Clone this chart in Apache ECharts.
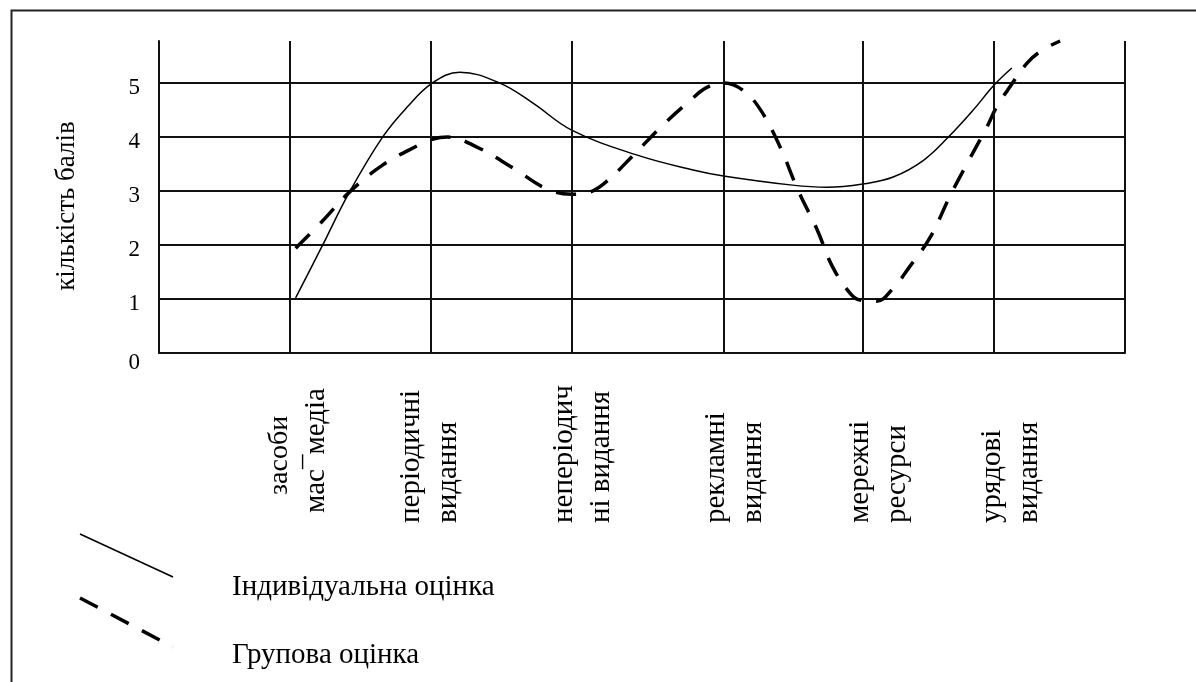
<!DOCTYPE html>
<html>
<head>
<meta charset="utf-8">
<script src="https://cdn.jsdelivr.net/npm/echarts@6/dist/echarts.min.js"></script>
<style>
  html, body { margin: 0; padding: 0; background: #fff; }
  #chart { width: 1196px; height: 682px; }
</style>
</head>
<body>
<div id="chart"></div>
<script>
// категорії (дві строки підпису)
var categories = [
    ['засоби', 'мас¯медіа'],
    ['періодичні', 'видання'],
    ['неперіодич', 'ні видання'],
    ['рекламні', 'видання'],
    ['мережні', 'ресурси'],
    ['урядові', 'видання']
];
// положення категорій на осі x (0..7)
var catPos = [0.95, 1.97, 2.99, 4.09, 5.10, 6.05];
var yTicks = [0, 1, 2, 3, 4, 5];

// Індивідуальна оцінка (прочитано з кривої)
var indX = [0.99, 1.18, 1.38, 1.62, 1.80, 1.98, 2.18, 2.47, 2.71, 2.99, 3.46, 3.87, 4.09, 4.59, 4.84, 5.10, 5.32, 5.54, 5.72, 5.90, 6.05, 6.18];
var indY = [1.02, 1.97, 2.98, 4.00, 4.56, 5.00, 5.20, 5.00, 4.63, 4.13, 3.67, 3.39, 3.28, 3.11, 3.07, 3.13, 3.26, 3.57, 4.00, 4.50, 4.96, 5.28];

// Групова оцінка
var grpX = [0.99, 1.19, 1.38, 1.62, 1.88, 1.98, 2.09, 2.30, 2.57, 2.81, 2.99, 3.09, 3.22, 3.44, 3.63, 3.85, 3.97, 4.09, 4.23, 4.36, 4.50, 4.63, 4.77, 4.88, 5.01, 5.08, 5.20, 5.32, 5.44, 5.59, 5.73, 5.86, 6.00, 6.07, 6.15, 6.29, 6.40, 6.53];
var grpY = [1.94, 2.46, 2.98, 3.48, 3.85, 3.96, 4.00, 3.82, 3.42, 3.04, 2.94, 2.96, 3.13, 3.67, 4.17, 4.68, 4.92, 5.00, 4.87, 4.50, 3.82, 3.02, 2.28, 1.60, 1.10, 0.98, 0.96, 1.20, 1.60, 2.15, 2.90, 3.53, 4.19, 4.56, 4.87, 5.37, 5.61, 5.78];

// місця підписів категорій
var labelPos = [1.01, 1.96, 3.07, 4.17, 5.22, 6.17];

var FONT = 'Liberation Serif';

function pairs(xs, ys) {
    var list = [];
    for (var i = 0; i < xs.length; i++) {
        list.push([xs[i], ys[i]]);
    }
    return list;
}

function catLabel(value) {
    var idx = 0, best = 99;
    for (var i = 0; i < labelPos.length; i++) {
        var d = Math.abs(labelPos[i] - value);
        if (d < best) { best = d; idx = i; }
    }
    var c = categories[idx];
    if (idx === 0) {
        return '{a|' + c[0] + '}\n{b|' + c[1] + '}';
    }
    return c[0] + '\n' + c[1];
}

var vLines = catPos.map(function (v) { return {xAxis: v}; });
vLines.push({xAxis: 7});

var option = {
    animation: false,
    grid: {left: 159, right: 71, top: 41, bottom: 329},
    xAxis: {
        type: 'value', min: 0, max: 7,
        axisLine: {show: true, lineStyle: {color: '#111', width: 2}},
        axisTick: {show: false},
        splitLine: {show: false},
        axisLabel: {
            customValues: labelPos,
            rotate: 90, align: 'left', margin: 170,
            fontFamily: FONT, fontSize: 29, color: '#000', lineHeight: 37,
            formatter: catLabel,
            rich: {
                a: {fontFamily: FONT, fontSize: 28, lineHeight: 37, padding: [0, 0, 0, 28]},
                b: {fontFamily: FONT, fontSize: 29, lineHeight: 37, padding: [0, 0, 0, 10]}
            }
        }
    },
    yAxis: {
        type: 'value', min: 0, max: 5.78, interval: 1,
        name: 'кількість балів', nameLocation: 'middle', nameGap: 79,
        nameTextStyle: {fontFamily: FONT, fontSize: 27, color: '#000', padding: [0, 18, 0, 0]},
        axisLine: {show: true, lineStyle: {color: '#111', width: 2}},
        axisTick: {show: false},
        splitLine: {show: true, showMaxLine: false, lineStyle: {color: '#111', width: 2}},
        axisLabel: {
            showMaxLabel: false, margin: 19,
            fontFamily: FONT, fontSize: 23, color: '#000',
            padding: [9, 0, 0, 0],
            formatter: function (v) {
                if (yTicks.indexOf(v) < 0) return '';
                return v === 0 ? '{z|0}' : String(v);
            },
            rich: {z: {fontFamily: FONT, fontSize: 23, color: '#000', padding: [10, 0, 0, 0]}}
        }
    },
    series: [
        {
            name: 'Індивідуальна оцінка', type: 'line', smooth: 0.4,
            symbol: 'none', clip: false,
            lineStyle: {color: '#000', width: 1.5},
            data: pairs(indX, indY),
            markLine: {
                silent: true, symbol: ['none', 'none'], label: {show: false},
                lineStyle: {color: '#111', width: 2, type: 'solid'},
                data: vLines
            },
            z: 3
        },
        {
            name: 'Групова оцінка', type: 'line', smooth: 0.4,
            symbol: 'none', clip: false,
            lineStyle: {color: '#000', width: 3.5, type: [20, 15], cap: 'butt'},
            data: pairs(grpX, grpY),
            z: 4
        }
    ],
    graphic: [
        // рамка
        {type: 'rect', left: 9, top: 8, silent: true,
            shape: {width: 1186, height: 690},
            style: {fill: null, stroke: '#222', lineWidth: 2}},
        // умовні позначення
        {type: 'line', silent: true, shape: {x1: 80, y1: 534, x2: 173, y2: 577},
            style: {stroke: '#000', lineWidth: 1.5}},
        {type: 'line', silent: true, shape: {x1: 80, y1: 598, x2: 173, y2: 647},
            style: {stroke: '#000', lineWidth: 3.5, lineDash: [20, 15]}},
        {type: 'text', left: 232, top: 573, silent: true,
            style: {text: 'Індивідуальна оцінка', font: '29px "Liberation Serif"', fill: '#000'}},
        {type: 'text', left: 232, top: 641, silent: true,
            style: {text: 'Групова оцінка', font: '29px "Liberation Serif"', fill: '#000'}}
    ]
};

var myChart = echarts.init(document.getElementById('chart'));
myChart.setOption(option);
</script>
</body>
</html>
